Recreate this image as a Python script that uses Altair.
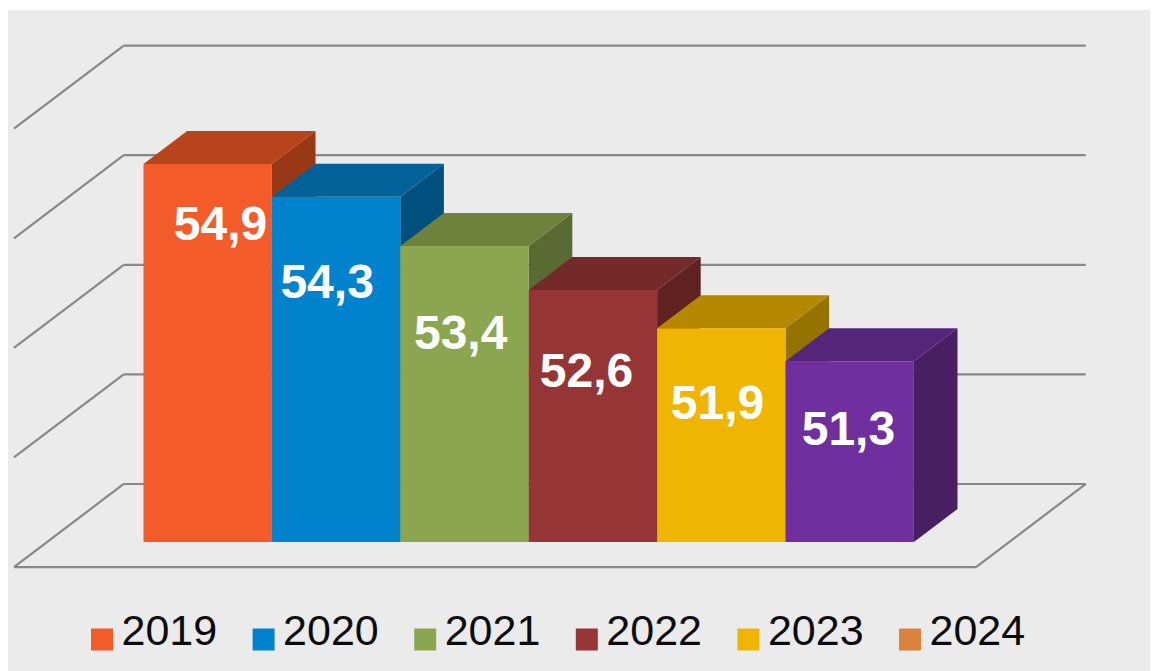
import altair as alt
import pandas as pd

# Data
years = ["2019", "2020", "2021", "2022", "2023", "2024"]
values = [54.9, 54.3, 53.4, 52.6, 51.9, 51.3]
grid_values = [48, 50, 52, 54, 56]

# Colours
legend_colors = ["#F45B2A", "#0082CC", "#8BA64F", "#953535", "#F0B500", "#DB823D"]
front_colors = ["#F45B2A", "#0082CC", "#8BA64F", "#953535", "#F0B500", "#6F2F9E"]
top_colors = ["#B8441C", "#006299", "#6E813D", "#752A2A", "#B48800", "#54267A"]
side_colors = ["#983815", "#00507F", "#5A6A33", "#602121", "#957300", "#481F63"]
BG = "#EBEBEB"
GRID = "#888888"

# Canvas and oblique projection
W, H = 1142, 663
SLOT_PX = 128.4
UNIT_PX = 54.8
X0 = 135.5 / SLOT_PX        # px from the left edge to the first bar
BASE = 48
DX = 43.6 / SLOT_PX         # depth shift in slots
DV = 33 / UNIT_PX           # depth shift in value units
WALL = 1.758                # depth of the back wall, in bar depths
FRONT = -0.76               # depth of the floor's front edge
LEFT = -1.009
RIGHT = 6.484

x_scale = alt.Scale(domain=[-X0, -X0 + W / SLOT_PX], nice=False, zero=False)
y_scale = alt.Scale(domain=[BASE - 129 / UNIT_PX, BASE + 534 / UNIT_PX], nice=False, zero=False)
X = lambda f: alt.X(f, type="quantitative", scale=x_scale, axis=None)
Y = lambda f: alt.Y(f, type="quantitative", scale=y_scale, axis=None)


def color(colors):
    return alt.Color("year:N", scale=alt.Scale(domain=years, range=colors), legend=None)


# Frames of the wall, side wall and floor
wall_rows = [{"x": LEFT + (WALL - FRONT) * DX, "x2": RIGHT + (WALL - FRONT) * DX,
              "y": g + WALL * DV, "y2": g + WALL * DV} for g in grid_values]
left_rows = [{"x": LEFT, "x2": LEFT + (WALL - FRONT) * DX,
              "y": g + FRONT * DV, "y2": g + WALL * DV} for g in grid_values]
floor_rows = [
    {"x": LEFT, "x2": RIGHT, "y": BASE + FRONT * DV, "y2": BASE + FRONT * DV},
    {"x": RIGHT, "x2": RIGHT + (WALL - FRONT) * DX, "y": BASE + FRONT * DV, "y2": BASE + WALL * DV},
]
grid = alt.Chart(pd.DataFrame(wall_rows + left_rows + floor_rows)).mark_rule(
    color=GRID, strokeWidth=2.2
).encode(x=X("x"), x2="x2", y=Y("y"), y2="y2")

# Faces of the bars
fronts, sides, tops = [], [], []
for i, (yr, v) in enumerate(zip(years, values)):
    fronts.append({"year": yr, "x": i, "x2": i + 1, "y": v, "y2": BASE})
    sides.append({"year": yr, "x": i + 1, "y": v, "y2": BASE})
    sides.append({"year": yr, "x": i + 1 + DX, "y": v + DV, "y2": BASE + DV})
    tops.append({"year": yr, "y": v, "x": i, "x2": i + 1})
    tops.append({"year": yr, "y": v + DV, "x": i + DX, "x2": i + 1 + DX})

side_layer = alt.Chart(pd.DataFrame(sides)).mark_area(orient="vertical").encode(
    x=X("x"), y=Y("y"), y2="y2", color=color(side_colors)
)
top_layer = alt.Chart(pd.DataFrame(tops)).mark_area(orient="horizontal").encode(
    y=Y("y"), x=X("x"), x2="x2", color=color(top_colors)
)
front_layer = alt.Chart(pd.DataFrame(fronts)).mark_rect().encode(
    x=X("x"), x2="x2", y=Y("y"), y2="y2", color=color(front_colors)
)

# Legend row: swatches and their year labels on one evenly spaced row
LEG_X0 = (102 - 143.5) / SLOT_PX    # swatch centre of the first entry
LEG_STEP = 161.6 / SLOT_PX
LEG_SWATCH_V = BASE - (639.5 - 542) / UNIT_PX
LEG_TEXT_V = BASE - (645 - 542) / UNIT_PX
LEG_TEXT_DX = 19.5 / SLOT_PX
legend_rows = pd.DataFrame({
    "year": years,
    "x": [LEG_X0 + i * LEG_STEP for i in range(len(years))],
    "tx": [LEG_X0 + i * LEG_STEP + LEG_TEXT_DX for i in range(len(years))],
    "y": [LEG_SWATCH_V] * len(years),
    "ty": [LEG_TEXT_V] * len(years),
})
legend_swatches = alt.Chart(legend_rows).mark_square(size=484, opacity=1).encode(
    x=X("x"), y=Y("y"), color=color(legend_colors)
)
legend_text = alt.Chart(legend_rows).mark_text(
    font="Liberation Sans", fontSize=43, color="#0A0A0A", align="left", baseline="alphabetic"
).encode(x=X("tx"), y=Y("ty"), text="year:N")

# Value labels, at the places they were given in the picture
label_x_nudge = [0.10, -0.07, -0.03, -0.05, -0.03, -0.01]
label_y_drop = [62, 87, 89, 83, 77, 70]
labels = pd.DataFrame({
    "x": [i + 0.5 + n for i, n in enumerate(label_x_nudge)],
    "y": [v - d / UNIT_PX for v, d in zip(values, label_y_drop)],
    "label": [f"{v:.1f}".replace(".", ",") for v in values],
})
text_layer = alt.Chart(labels).mark_text(
    font="Liberation Sans", fontSize=48, fontWeight="bold", color="white", baseline="middle", align="center"
).encode(x=X("x"), y=Y("y"), text="label:N")

top_line = alt.Chart(pd.DataFrame({"a": [0]})).mark_rule(color="white", strokeWidth=2).encode(
    x=alt.value(0), x2=alt.value(W), y=alt.value(1)
)

chart = alt.layer(
    top_line, grid, side_layer, top_layer, front_layer, text_layer, legend_swatches, legend_text
).resolve_scale(color="independent").properties(
    width=W, height=H, background=BG, padding=0,
    autosize=alt.AutoSizeParams(type="none"),
).configure_view(stroke=None)

chart.save("out.html", embed_options={"renderer": "svg", "actions": False})
